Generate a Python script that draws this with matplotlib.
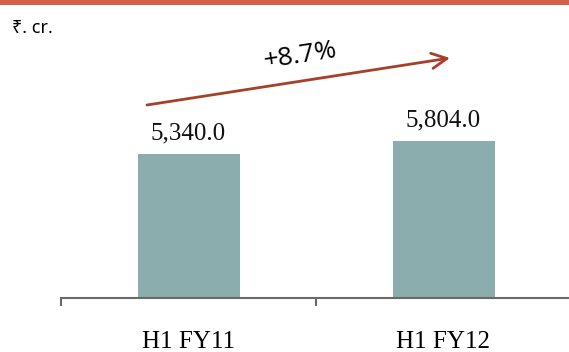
import matplotlib
matplotlib.use('Agg')
import matplotlib.pyplot as plt
from matplotlib.patches import Rectangle

# data
periods = ['H1 FY11', 'H1 FY12']
revenue = [5340.0, 5804.0]
growth_label = '+8.7%'
unit_label = '₹. cr.'

bar_color = '#8BADAD'
arrow_color = '#A5412B'
top_color = '#D4614A'

W, H = 569, 352
fig = plt.figure(figsize=(W / 100, H / 100), dpi=100)

# orange strip at top
fig.add_artist(Rectangle((0, 1 - 5 / H), 1, 5 / H, transform=fig.transFigure,
                         color=top_color, lw=0))

ax = fig.add_axes([61 / W, 54 / H, 510 / W, 278 / H])
x = list(range(len(periods)))
ax.bar(x, revenue, width=0.40, color=bar_color)
ax.set_xlim(-0.5, len(periods) - 0.5)
ax.set_ylim(0, 278 / (144 / 5340.0))

for xi, v in zip(x, revenue):
    ax.annotate(f'{v:,.1f}', (xi, v), xytext=(0, 7), textcoords='offset points',
                ha='center', va='bottom', fontsize=18, family='Liberation Serif',
                color='#111111')

for s in ['top', 'right', 'left']:
    ax.spines[s].set_visible(False)
ax.spines['bottom'].set_color('#6a6a6a')
ax.spines['bottom'].set_linewidth(1.5)
ax.set_yticks([])

# ticks at category boundaries, labels at centers
ax.set_xticks([-0.5, 0.5, 1.5])
ax.set_xticklabels([])
ax.tick_params(axis='x', which='major', length=6, width=1.5, color='#6a6a6a', direction='out')
ax.set_xticks(x, minor=True)
ax.set_xticklabels(periods, minor=True, fontsize=18, family='Liberation Serif')
ax.tick_params(axis='x', which='minor', length=0, pad=24)

# growth arrow
ax.annotate('', xy=(450 / W, 1 - 58 / H), xytext=(147 / W, 1 - 105 / H),
            xycoords='figure fraction', textcoords='figure fraction',
            arrowprops=dict(arrowstyle='->, head_length=1.1, head_width=0.55',
                            color=arrow_color, lw=2, shrinkA=0, shrinkB=0))
fig.text(300 / W, 1 - 56 / H, growth_label, rotation=8.8, ha='center', va='center',
         fontsize=19, family=['Open Sans', 'DejaVu Sans'], rotation_mode='anchor')

fig.text(12 / W, 1 - 28 / H, unit_label, ha='left', va='center', fontsize=13,
         family=['Noto Sans', 'DejaVu Sans'])

fig.savefig('out.png', dpi=100)
